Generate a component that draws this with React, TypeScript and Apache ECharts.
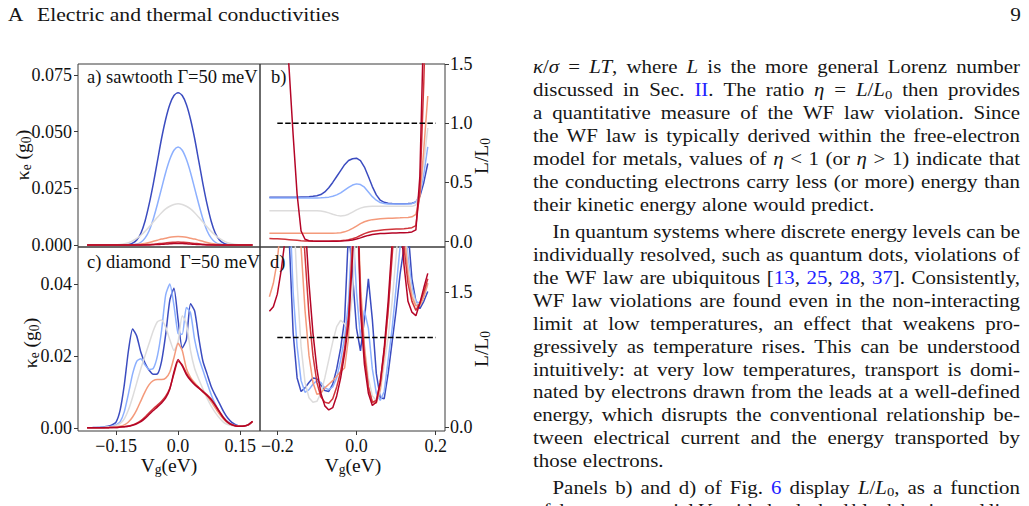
import React, { useEffect, useRef } from 'react';
import * as echarts from 'echarts';

// ---------------- data ----------------
const VG = [-0.22, -0.21, -0.2, -0.19, -0.18, -0.17, -0.16, -0.15, -0.14, -0.13, -0.12, -0.11, -0.1, -0.09, -0.08, -0.07, -0.06, -0.05, -0.04, -0.03, -0.02, -0.01, 0, 0.01, 0.02, 0.03, 0.04, 0.05, 0.06, 0.07, 0.08, 0.09, 0.1, 0.11, 0.12, 0.13, 0.14, 0.15, 0.16, 0.17, 0.18];

const TEMP_COLORS = ['#3b4cc0', '#8db0fe', '#dddcdc', '#f49a7b', '#d0343a', '#b40426'];

// a) sawtooth, kappa_e (g0)
const KAPPA_SAW_1 = [0, 0, 0, 0, 0, 0, 0, 0, 0, 0, 0.0002, 0.0008, 0.0022, 0.0052, 0.0105, 0.018, 0.027, 0.037, 0.047, 0.0555, 0.062, 0.066, 0.0672, 0.066, 0.062, 0.0555, 0.047, 0.037, 0.027, 0.018, 0.0105, 0.0052, 0.0022, 0.0008, 0.0002, 0, 0, 0, 0, 0, 0];
const KAPPA_SAW_2 = [0, 0, 0, 0, 0, 0, 0, 0, 0, 0, 0, 0.0001, 0.0004, 0.0012, 0.003, 0.0063, 0.0115, 0.018, 0.025, 0.032, 0.0378, 0.0418, 0.0432, 0.0418, 0.0378, 0.032, 0.025, 0.018, 0.0115, 0.0063, 0.003, 0.0012, 0.0004, 0.0001, 0, 0, 0, 0, 0, 0, 0];
const KAPPA_SAW_3 = [0, 0, 0, 0, 0, 0, 0, 0.0001, 0.0002, 0.0005, 0.001, 0.0018, 0.0029, 0.0043, 0.006, 0.008, 0.0101, 0.0122, 0.0142, 0.0159, 0.0171, 0.0179, 0.0182, 0.0179, 0.0171, 0.0159, 0.0142, 0.0122, 0.0101, 0.008, 0.006, 0.0043, 0.0029, 0.0018, 0.001, 0.0005, 0.0002, 0.0001, 0, 0, 0];
const KAPPA_SAW_4 = [0, 0, 0, 0, 0, 0, 0, 0, 0, 0, 0, 0.0001, 0.0002, 0.0004, 0.0007, 0.0011, 0.0016, 0.0021, 0.0026, 0.003, 0.0034, 0.0036, 0.0037, 0.0036, 0.0034, 0.003, 0.0026, 0.0021, 0.0016, 0.0011, 0.0007, 0.0004, 0.0002, 0.0001, 0, 0, 0, 0, 0, 0, 0];
const KAPPA_SAW_5 = [0, 0, 0, 0, 0, 0, 0, 0, 0, 0, 0, 0, 0, 0, 0.0001, 0.0002, 0.0003, 0.0005, 0.0007, 0.0009, 0.0011, 0.0012, 0.0013, 0.0012, 0.0011, 0.0009, 0.0007, 0.0005, 0.0003, 0.0002, 0.0001, 0, 0, 0, 0, 0, 0, 0, 0, 0, 0];
const KAPPA_SAW_6 = [0, 0, 0, 0, 0, 0, 0, 0, 0, 0, 0, 0, 0, 0, 0, 0, 0.0001, 0.0002, 0.0003, 0.0004, 0.0005, 0.0006, 0.0006, 0.0006, 0.0005, 0.0004, 0.0003, 0.0002, 0.0001, 0, 0, 0, 0, 0, 0, 0, 0, 0, 0, 0, 0];

// b) sawtooth, L/L0
const RATIO_SAW_1 = [0.375, 0.375, 0.375, 0.375, 0.375, 0.375, 0.376, 0.376, 0.377, 0.378, 0.38, 0.383, 0.388, 0.398, 0.42, 0.455, 0.5, 0.55, 0.6, 0.65, 0.685, 0.7, 0.705, 0.685, 0.63, 0.55, 0.465, 0.395, 0.35, 0.332, 0.325, 0.322, 0.321, 0.321, 0.321, 0.322, 0.325, 0.335, 0.38, 0.5, 0.66];
const RATIO_SAW_2 = [0.368, 0.368, 0.368, 0.368, 0.368, 0.368, 0.368, 0.368, 0.368, 0.368, 0.368, 0.368, 0.369, 0.37, 0.372, 0.376, 0.383, 0.395, 0.412, 0.435, 0.458, 0.478, 0.488, 0.482, 0.46, 0.42, 0.38, 0.35, 0.33, 0.322, 0.319, 0.318, 0.318, 0.318, 0.318, 0.319, 0.321, 0.335, 0.4, 0.57, 0.8];
const RATIO_SAW_3 = [0.262, 0.262, 0.262, 0.262, 0.262, 0.262, 0.262, 0.262, 0.262, 0.262, 0.262, 0.262, 0.261, 0.258, 0.252, 0.243, 0.232, 0.222, 0.217, 0.22, 0.232, 0.25, 0.268, 0.283, 0.292, 0.297, 0.299, 0.3, 0.3, 0.3, 0.3, 0.3, 0.299, 0.299, 0.298, 0.298, 0.298, 0.31, 0.42, 0.67, 0.96];
const RATIO_SAW_4 = [0.072, 0.072, 0.072, 0.072, 0.072, 0.072, 0.072, 0.072, 0.072, 0.072, 0.072, 0.072, 0.072, 0.072, 0.072, 0.072, 0.072, 0.073, 0.076, 0.083, 0.095, 0.112, 0.132, 0.152, 0.168, 0.179, 0.186, 0.19, 0.193, 0.195, 0.197, 0.198, 0.2, 0.201, 0.203, 0.205, 0.21, 0.23, 0.38, 0.78, 1.23];
const RATIO_SAW_5 = [0.026, 0.025, 0.024, 0.022, 0.02, 0.017, 0.014, 0.011, 0.008, 0.006, 0.005, 0.004, 0.004, 0.004, 0.004, 0.004, 0.005, 0.006, 0.008, 0.011, 0.016, 0.024, 0.036, 0.052, 0.068, 0.08, 0.088, 0.093, 0.097, 0.1, 0.102, 0.104, 0.106, 0.108, 0.11, 0.113, 0.118, 0.135, 0.42, 1.35, 2.6];
const RATIO_SAW_6 = [6.0, 4.6, 3.5, 2.6, 1.95, 1.45, 0.9, 0.4, 0.09, 0.02, 0.008, 0.005, 0.004, 0.003, 0.003, 0.003, 0.003, 0.004, 0.005, 0.007, 0.01, 0.015, 0.022, 0.032, 0.043, 0.053, 0.06, 0.065, 0.068, 0.07, 0.072, 0.073, 0.074, 0.075, 0.076, 0.078, 0.082, 0.1, 0.55, 1.9, 3.6];

// c) diamond, kappa_e (g0)
const KAPPA_DIA_1 = [0, 0, 0.0001, 0.0001, 0.0002, 0.0004, 0.0008, 0.0016, 0.005, 0.012, 0.0215, 0.0275, 0.0255, 0.021, 0.018, 0.016, 0.0149, 0.015, 0.0185, 0.026, 0.0355, 0.0388, 0.03, 0.0222, 0.0245, 0.0345, 0.0325, 0.025, 0.0185, 0.015, 0.0115, 0.009, 0.0068, 0.0045, 0.0027, 0.0015, 0.0008, 0.0005, 0.0005, 0.0008, 0.0017];
const KAPPA_DIA_2 = [0, 0, 0, 0.0001, 0.0001, 0.0002, 0.0004, 0.0008, 0.0017, 0.0045, 0.0095, 0.015, 0.0185, 0.0192, 0.0175, 0.0162, 0.0165, 0.02, 0.027, 0.037, 0.04, 0.034, 0.0262, 0.026, 0.0335, 0.032, 0.0245, 0.0195, 0.016, 0.0125, 0.0092, 0.0066, 0.0045, 0.0028, 0.0017, 0.001, 0.0006, 0.0005, 0.0005, 0.0008, 0.0017];
const KAPPA_DIA_3 = [0, 0, 0, 0, 0.0001, 0.0002, 0.0003, 0.0006, 0.0012, 0.0025, 0.005, 0.0085, 0.0125, 0.0165, 0.02, 0.0235, 0.027, 0.0295, 0.03, 0.028, 0.0245, 0.0215, 0.024, 0.0312, 0.029, 0.0215, 0.0165, 0.0135, 0.0108, 0.0082, 0.006, 0.0042, 0.0027, 0.0015, 0.0009, 0.0006, 0.0005, 0.0004, 0.0005, 0.0008, 0.0017];
const KAPPA_DIA_4 = [0, 0, 0, 0, 0, 0.0001, 0.0001, 0.0002, 0.0004, 0.0008, 0.0016, 0.003, 0.005, 0.0075, 0.01, 0.012, 0.0131, 0.0134, 0.0134, 0.0138, 0.0155, 0.0195, 0.0235, 0.0215, 0.0165, 0.014, 0.0125, 0.0112, 0.01, 0.0088, 0.0072, 0.0055, 0.0038, 0.0024, 0.0014, 0.0008, 0.0005, 0.0004, 0.0005, 0.0008, 0.0017];
const KAPPA_DIA_5 = [0, 0, 0, 0, 0, 0, 0.0001, 0.0001, 0.0002, 0.0003, 0.0005, 0.0008, 0.0013, 0.002, 0.003, 0.0042, 0.0053, 0.0063, 0.0074, 0.0088, 0.011, 0.015, 0.0185, 0.0175, 0.0152, 0.0135, 0.0122, 0.0112, 0.0102, 0.0092, 0.008, 0.0063, 0.0045, 0.0028, 0.0016, 0.0009, 0.0005, 0.0004, 0.0005, 0.0008, 0.0017];
const KAPPA_DIA_6 = [0, 0, 0, 0, 0, 0, 0.0001, 0.0001, 0.0002, 0.0003, 0.0004, 0.0007, 0.0011, 0.0017, 0.0026, 0.0037, 0.0048, 0.0058, 0.0069, 0.0083, 0.0108, 0.0155, 0.019, 0.0172, 0.0148, 0.0132, 0.012, 0.011, 0.01, 0.009, 0.0078, 0.0062, 0.0044, 0.0027, 0.0015, 0.0008, 0.0005, 0.0004, 0.0005, 0.0009, 0.0018];

// d) diamond, L/L0
const RATIO_DIA_1 = [3, 3, 3, 3, 2.8, 2.1, 1.05, 0.55, 0.4, 0.44, 0.5, 0.55, 0.54, 0.47, 0.41, 0.4, 0.48, 0.65, 0.88, 1.2, 2.2, 1.7, 1.1, 0.85, 1.2, 1.65, 1.2, 0.6, 0.33, 0.32, 0.6, 0.95, 1.3, 1.7, 2.0, 2.2, 1.65, 1.4, 1.32, 1.4, 1.51];
const RATIO_DIA_2 = [3, 3, 3, 3, 3, 2.6, 1.5, 0.9, 0.52, 0.39, 0.42, 0.48, 0.52, 0.5, 0.44, 0.42, 0.45, 0.55, 0.75, 1.0, 1.4, 2.3, 1.5, 1.0, 1.3, 1.1, 0.65, 0.38, 0.3, 0.4, 0.75, 1.1, 1.55, 2.0, 2.4, 1.9, 1.55, 1.4, 1.38, 1.45, 1.6];
const RATIO_DIA_3 = [3, 3, 3, 3, 3, 3, 2.5, 1.6, 0.9, 0.5, 0.33, 0.28, 0.29, 0.38, 0.55, 0.75, 0.95, 1.12, 1.19, 1.15, 1.08, 1.5, 2.4, 1.4, 0.9, 0.55, 0.35, 0.3, 0.4, 0.7, 1.0, 1.4, 1.9, 2.4, 2.3, 1.8, 1.5, 1.38, 1.36, 1.45, 1.58];
const RATIO_DIA_4 = [1.45, 1.6, 1.85, 2.3, 2.8, 3, 3, 3, 2.0, 1.3, 0.8, 0.5, 0.37, 0.38, 0.44, 0.48, 0.52, 0.57, 0.62, 0.66, 1.0, 2.2, 2.8, 1.6, 0.9, 0.45, 0.28, 0.27, 0.42, 0.8, 1.3, 2.0, 2.6, 2.6, 2.2, 1.7, 1.45, 1.35, 1.35, 1.45, 1.6];
const RATIO_DIA_5 = [2.2, 2.5, 3, 3, 3, 3, 3, 3, 2.6, 1.9, 1.25, 0.8, 0.5, 0.34, 0.28, 0.27, 0.32, 0.45, 0.62, 0.88, 1.25, 2.0, 2.8, 1.45, 0.8, 0.45, 0.28, 0.3, 0.5, 0.85, 1.3, 1.9, 2.5, 2.5, 2.0, 1.6, 1.4, 1.3, 1.38, 1.5, 1.65];
const RATIO_DIA_6 = [1.29, 1.34, 1.48, 1.75, 2.1, 2.6, 3, 3, 2.9, 2.3, 1.6, 1.05, 0.65, 0.38, 0.24, 0.195, 0.22, 0.35, 0.55, 0.82, 1.15, 1.9, 3, 1.3, 0.7, 0.38, 0.245, 0.28, 0.5, 0.88, 1.4, 2.05, 2.6, 2.4, 1.8, 1.4, 1.28, 1.24, 1.38, 1.55, 1.71];

const WF_X = [-0.2, 0.2];
const WF_VALUE = 1.0;

const VG_TICKS_LEFT = [-0.15, 0, 0.15];
const VG_TICK_LABELS_LEFT = ['\u22120.15', '0.0', '0.15'];
const VG_TICKS_RIGHT = [-0.2, 0, 0.2];
const VG_TICK_LABELS_RIGHT = ['\u22120.2', '0.0', '0.2'];
const KAPPA_SAW_TICKS = [0, 0.025, 0.05, 0.075];
const KAPPA_SAW_TICK_LABELS = ['0.000', '0.025', '0.050', '0.075'];
const RATIO_SAW_TICKS = [0, 0.5, 1, 1.5];
const RATIO_SAW_TICK_LABELS = ['0.0', '0.5', '1.0', '1.5'];
const KAPPA_DIA_TICKS = [0, 0.02, 0.04];
const KAPPA_DIA_TICK_LABELS = ['0.00', '0.02', '0.04'];
const RATIO_DIA_TICKS = [0, 1.5];
const RATIO_DIA_TICK_LABELS = ['0.0', '1.5'];

// ---------------- texts ----------------
const HEADER_LEFT = 'A';
const HEADER_TITLE = 'Electric and thermal conductivities';
const HEADER_PAGE = '9';
const PANEL_TITLES = ['a) sawtooth \u0393=50 meV', 'b)', 'c) diamond\u00a0 \u0393=50 meV', 'd)'];
const KAPPA_LABEL = '\u03ba{s|e} (g{s|0})';
const RATIO_LABEL = 'L/L{s|0}';
const VG_LABEL = 'V{s|g}(eV)';

const PARAGRAPHS = [
  [
    '{i|\u03ba}/{i|\u03c3} = {i|LT}, where {i|L} is the more general Lorenz number',
    'discussed in Sec. {b|II}. The ratio {i|\u03b7} = {i|L}/{i|L}{s|0} then provides',
    'a quantitative measure of the WF law violation. Since',
    'the WF law is typically derived within the free-electron',
    'model for metals, values of {i|\u03b7} < 1 (or {i|\u03b7} > 1) indicate that',
    'the conducting electrons carry less (or more) energy than',
    'their kinetic energy alone would predict.',
  ],
  [
    'In quantum systems where discrete energy levels can be',
    'individually resolved, such as quantum dots, violations of',
    'the WF law are ubiquitous [{b|13}, {b|25}, {b|28}, {b|37}]. Consistently,',
    'WF law violations are found even in the non-interacting',
    'limit at low temperatures, an effect that weakens pro-',
    'gressively as temperature rises. This can be understood',
    'intuitively: at very low temperatures, transport is domi-',
    'nated by electrons drawn from the leads at a well-defined',
    'energy, which disrupts the conventional relationship be-',
    'tween electrical current and the energy transported by',
    'those electrons.',
  ],
  [
    'Panels b) and d) of Fig. {b|6} display {i|L}/{i|L}{s|0}, as a function',
    'of the gate potential {i|V}{s|g} with the dashed black horizontal line',
  ],
];
const PARAGRAPH_CONTINUES = [false, false, true];

// ---------------- layout / style ----------------
const FONT = 'Liberation Serif';
const AX = '#3a3a3a';
const INK = '#161616';
const LINK = '#2222ff';
const BODY_SIZE = 19;
const BODY_SX = 1.1;
const TEXT_LEFT = 533;
const TEXT_RIGHT = 1020;
const INDENT = 19.5;
const LINE0 = 66.7;
const LH = 22.95;
const PARSKIP = 3.8;

type Seg = { t: string; k: string };
function parse(s: string): Seg[] {
  const out: Seg[] = [];
  const re = /\{(\w)\|([^}]*)\}|([^{]+)/g;
  let m: RegExpExecArray | null;
  while ((m = re.exec(s))) {
    if (m[3] !== undefined) out.push({ t: m[3], k: 'n' });
    else out.push({ t: m[2], k: m[1] });
  }
  return out;
}

let ctx: CanvasRenderingContext2D | null = null;
function measure(t: string, size: number, italic: boolean): number {
  if (!ctx) ctx = document.createElement('canvas').getContext('2d');
  ctx!.font = `${italic ? 'italic ' : ''}${size}px "${FONT}"`;
  return ctx!.measureText(t).width;
}

function segStyle(k: string, size: number) {
  if (k === 's') return { size: size * 0.7, italic: false, color: null as string | null, dy: size * 0.25 };
  if (k === 'i') return { size, italic: true, color: null as string | null, dy: 0 };
  if (k === 'b') return { size, italic: false, color: LINK as string | null, dy: 0 };
  return { size, italic: false, color: null as string | null, dy: 0 };
}

function segsWidth(segs: Seg[], size: number, sx: number) {
  let w = 0;
  for (const s of segs) {
    const st = segStyle(s.k, size);
    w += measure(s.t, st.size, st.italic) * sx;
  }
  return w;
}

function placeSegs(segs: Seg[], x: number, y: number, size: number, sx: number, color: string, out: any[]) {
  for (const s of segs) {
    const st = segStyle(s.k, size);
    out.push({
      type: 'text',
      x,
      y: y + st.dy,
      scaleX: sx,
      silent: true,
      z: 100,
      style: {
        text: s.t,
        fontFamily: FONT,
        fontSize: st.size,
        fontStyle: st.italic ? 'italic' : 'normal',
        fill: st.color || color,
        textAlign: 'left',
        textVerticalAlign: 'middle',
        align: 'left',
        verticalAlign: 'middle',
      },
    });
    x += measure(s.t, st.size, st.italic) * sx;
  }
  return x;
}

function buildTextElements() {
  const out: any[] = [];
  // header
  placeSegs(parse(HEADER_LEFT), 8, 14, BODY_SIZE, 1.12, INK, out);
  placeSegs(parse(HEADER_TITLE), 37, 14, BODY_SIZE, 1.14, INK, out);
  const pw = segsWidth(parse(HEADER_PAGE), BODY_SIZE, 1.12);
  placeSegs(parse(HEADER_PAGE), 1021 - pw, 14, BODY_SIZE, 1.12, INK, out);

  // body column
  let lineIdx = 0;
  PARAGRAPHS.forEach((para, p) => {
    para.forEach((line, li) => {
      const y = LINE0 + lineIdx * LH + p * PARSKIP;
      const x0 = li === 0 && p > 0 ? TEXT_LEFT + INDENT : TEXT_LEFT;
      const words = line.split(' ').map(parse);
      const widths = words.map((w) => segsWidth(w, BODY_SIZE, BODY_SX));
      const total = widths.reduce((a, b) => a + b, 0);
      const isLast = li === para.length - 1 && !PARAGRAPH_CONTINUES[p];
      const gap = isLast || words.length < 2
        ? measure(' ', BODY_SIZE, false) * BODY_SX * 1.1
        : (TEXT_RIGHT - x0 - total) / (words.length - 1);
      let x = x0;
      words.forEach((w, wi) => {
        placeSegs(w, x, y, BODY_SIZE, BODY_SX, INK, out);
        x += widths[wi] + gap;
      });
      lineIdx++;
    });
  });

  // panel titles
  const titlePos = [[87, 77], [271, 77], [87, 262], [270, 262]];
  PANEL_TITLES.forEach((t, i) => {
    placeSegs(parse(t), titlePos[i][0], titlePos[i][1], 18.5, 1, '#111', out);
  });

  // axis titles
  const group = (markup: string, cx: number, cy: number, size: number, rotate: boolean) => {
    const segs = parse(markup);
    const w = segsWidth(segs, size, 1);
    const children: any[] = [];
    placeSegs(segs, -w / 2, 0, size, 1, '#111', children);
    return { type: 'group', x: cx, y: cy, rotation: rotate ? Math.PI / 2 : 0, silent: true, children };
  };
  out.push(group(KAPPA_LABEL, 22, 155, 19.5, true));
  out.push(group(KAPPA_LABEL, 30, 343, 19.5, true));
  out.push(group(RATIO_LABEL, 481, 156, 19.5, true));
  out.push(group(RATIO_LABEL, 481, 349, 19.5, true));
  out.push(group(VG_LABEL, 169, 465, 19.5, false));
  out.push(group(VG_LABEL, 353, 465, 19.5, false));
  return out;
}

const lookup = (ticks: number[], labels: string[]) => (v: number) => {
  const i = ticks.findIndex((t) => Math.abs(t - v) < 1e-9);
  return i >= 0 ? labels[i] : '';
};

function buildOption() {
  const panels = [
    { grid: { left: 78, top: 64, width: 182, height: 183 }, x: [-0.242, 0.198], y: [-0.0009, 0.0799], data: [KAPPA_SAW_1, KAPPA_SAW_2, KAPPA_SAW_3, KAPPA_SAW_4, KAPPA_SAW_5, KAPPA_SAW_6], yT: KAPPA_SAW_TICKS, yL: KAPPA_SAW_TICK_LABELS, yPos: 'left', xT: VG_TICKS_LEFT, xL: VG_TICK_LABELS_LEFT, showX: false, smooth: 0.25, wf: false },
    { grid: { left: 260, top: 64, width: 185, height: 183 }, x: [-0.2437, 0.2235], y: [-0.045, 1.5], data: [RATIO_SAW_1, RATIO_SAW_2, RATIO_SAW_3, RATIO_SAW_4, RATIO_SAW_5, RATIO_SAW_6], yT: RATIO_SAW_TICKS, yL: RATIO_SAW_TICK_LABELS, yPos: 'right', xT: VG_TICKS_RIGHT, xL: VG_TICK_LABELS_RIGHT, showX: false, smooth: false, wf: true },
    { grid: { left: 78, top: 247, width: 182, height: 184 }, x: [-0.242, 0.198], y: [-0.0009, 0.0503], data: [KAPPA_DIA_1, KAPPA_DIA_2, KAPPA_DIA_3, KAPPA_DIA_4, KAPPA_DIA_5, KAPPA_DIA_6], yT: KAPPA_DIA_TICKS, yL: KAPPA_DIA_TICK_LABELS, yPos: 'left', xT: VG_TICKS_LEFT, xL: VG_TICK_LABELS_LEFT, showX: true, smooth: 0.2, wf: false },
    { grid: { left: 260, top: 247, width: 185, height: 184 }, x: [-0.2437, 0.2235], y: [-0.039, 2.003], data: [RATIO_DIA_1, RATIO_DIA_2, RATIO_DIA_3, RATIO_DIA_4, RATIO_DIA_5, RATIO_DIA_6], yT: RATIO_DIA_TICKS, yL: RATIO_DIA_TICK_LABELS, yPos: 'right', xT: VG_TICKS_RIGHT, xL: VG_TICK_LABELS_RIGHT, showX: true, smooth: false, wf: true },
  ];
  const labelFont = { fontFamily: FONT, fontSize: 18, color: '#111' };
  const tick = { show: true, inside: false, length: 4, lineStyle: { color: AX, width: 1 } };
  const series: any[] = [];
  panels.forEach((p, g) => {
    p.data.forEach((arr, k) => {
      series.push({
        type: 'line', xAxisIndex: g, yAxisIndex: g, silent: true,
        data: VG.map((x, i) => [x, arr[i]]),
        showSymbol: false, smooth: p.smooth, clip: true,
        lineStyle: { color: TEMP_COLORS[k], width: 1.5 },
        z: 2 + k,
      });
    });
    if (p.wf) {
      series.push({
        type: 'line', xAxisIndex: g, yAxisIndex: g, silent: true,
        data: WF_X.map((x) => [x, WF_VALUE]), showSymbol: false,
        lineStyle: { color: '#000', width: 1.5, type: [5.5, 2.4] }, z: 20,
      });
    }
  });
  return {
    animation: false,
    backgroundColor: '#ffffff',
    grid: panels.map((p) => ({ ...p.grid, show: true, borderColor: AX, borderWidth: 1, backgroundColor: 'transparent', containLabel: false })),
    xAxis: panels.map((p, g) => ({
      type: 'value', gridIndex: g, min: p.x[0], max: p.x[1], position: 'bottom',
      axisLine: { show: false, onZero: false }, splitLine: { show: false },
      axisTick: p.showX ? { ...tick, customValues: p.xT } : { show: false },
      axisLabel: p.showX ? { ...labelFont, margin: 6, customValues: p.xT, formatter: lookup(p.xT, p.xL) } : { show: false },
    })),
    yAxis: panels.map((p, g) => ({
      type: 'value', gridIndex: g, min: p.y[0], max: p.y[1], position: p.yPos,
      axisLine: { show: false, onZero: false }, splitLine: { show: false },
      axisTick: { ...tick, customValues: p.yT },
      axisLabel: { ...labelFont, margin: p.yPos === 'left' ? 6 : 5, customValues: p.yT, formatter: lookup(p.yT, p.yL) },
    })),
    series,
    graphic: { elements: buildTextElements() },
  };
}

export default function App() {
  const ref = useRef<HTMLDivElement>(null);
  useEffect(() => {
    const chart = echarts.init(ref.current!, null, { renderer: 'svg' });
    chart.setOption(buildOption() as any);
    return () => chart.dispose();
  }, []);
  return <div ref={ref} style={{ position: 'fixed', left: 0, top: 0, width: 1029, height: 506, background: '#fff' }} />;
}
